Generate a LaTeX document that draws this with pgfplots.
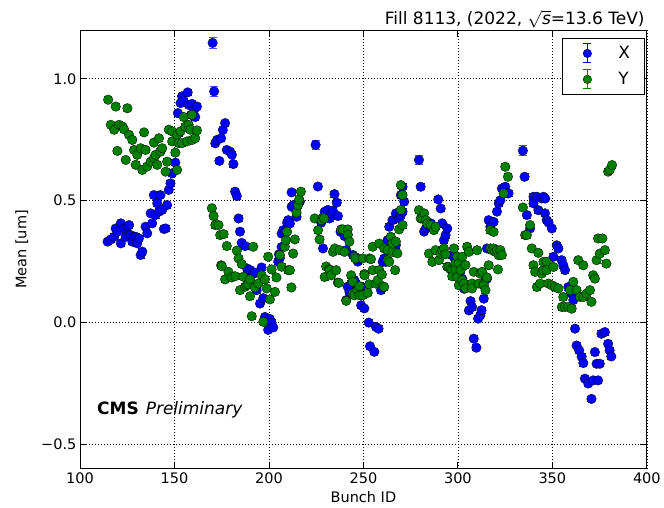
\documentclass[border=0pt]{standalone}
\usepackage{fontspec}
\setmainfont{DejaVu Sans}
\usepackage{pgfplots}
\pgfplotsset{compat=1.18}
\usepackage{pgfplotstable}
\usetikzlibrary{calc}

% mean X per bunch
\pgfplotstableread{
x y
114.6 0.332
116.3 0.341
118.1 0.352
118.9 0.386
119.8 0.373
121.6 0.407
121.6 0.325
123.3 0.386
124.2 0.352
125.1 0.393
126.0 0.400
126.8 0.359
127.7 0.332
128.6 0.352
129.5 0.352
130.3 0.325
131.2 0.345
132.1 0.277
133.0 0.291
134.7 0.393
135.6 0.366
137.4 0.448
138.2 0.407
139.1 0.523
140.0 0.441
140.9 0.489
141.8 0.455
142.6 0.523
143.5 0.462
144.4 0.384
145.3 0.386
146.1 0.482
147.0 0.544
147.9 0.571
148.8 0.612
150.5 0.656
151.8 0.859
152.3 0.777
153.2 0.900
154.0 0.928
154.9 0.907
157.0 0.944
157.5 0.893
158.8 0.852
159.3 0.897
160.4 0.872
161.0 0.843
161.9 0.886
171.6 0.735
172.5 0.749
173.8 0.663
174.7 0.756
175.6 0.790
176.8 0.818
177.7 0.708
179.5 0.701
180.4 0.688
181.2 0.650
182.1 0.537
183.0 0.519
183.9 0.427
184.7 0.373
185.6 0.327
187.4 0.314
188.4 0.222
189.1 0.200
190.2 0.215
191.7 0.200
192.6 0.205
193.5 0.133
195.3 0.078
196.1 0.226
197.0 0.100
197.9 0.023
198.8 0.010
199.6 -0.030
200.5 0.015
201.4 0.000
202.3 -0.020
204.9 0.250
205.3 0.280
205.8 0.265
206.7 0.310
206.7 0.365
207.6 0.379
208.4 0.370
209.6 0.410
210.2 0.420
211.1 0.406
212.0 0.475
212.0 0.534
212.9 0.482
214.6 0.434
215.5 0.489
216.4 0.496
225.9 0.558
227.7 0.410
228.6 0.304
229.5 0.455
231.2 0.462
232.1 0.427
233.0 0.448
233.8 0.459
234.7 0.527
235.9 0.492
236.5 0.437
237.9 0.372
239.2 0.373
240.0 0.355
240.9 0.297
240.9 0.092
241.7 0.147
242.6 0.126
243.5 0.160
244.4 0.277
245.2 0.174
246.1 0.160
247.0 0.250
247.0 0.133
248.0 0.260
248.8 0.147
248.8 0.071
250.5 0.058
252.8 0.000
253.5 -0.097
255.8 -0.120
256.6 -0.018
258.0 -0.025
259.3 0.133
260.2 0.249
261.0 0.263
261.9 0.249
262.8 0.338
263.7 0.393
264.5 0.311
265.4 0.420
267.2 0.318
267.2 0.448
268.9 0.427
269.8 0.441
269.8 0.523
270.7 0.455
270.7 0.557
271.6 0.496
280.3 0.557
282.1 0.373
283.0 0.386
284.7 0.400
285.6 0.407
287.4 0.386
288.2 0.393
289.6 0.505
290.9 0.468
291.7 0.407
292.6 0.338
293.5 0.359
294.4 0.386
297.0 0.276
297.9 0.270
298.7 0.256
299.6 0.187
299.7 0.242
301.4 0.215
302.3 0.180
303.2 0.139
304.9 0.146
305.8 0.050
306.7 0.088
307.5 0.064
308.4 -0.066
309.8 -0.103
310.7 0.016
311.9 0.030
312.5 0.051
313.7 0.098
314.6 0.187
315.4 0.180
315.4 0.304
316.3 0.420
317.2 0.393
318.9 0.413
320.7 0.455
321.6 0.489
322.5 0.502
323.3 0.550
325.1 0.557
326.0 0.530
326.8 0.530
335.3 0.598
336.5 0.441
338.2 0.386
340.0 0.516
340.0 0.489
341.8 0.516
342.6 0.461
344.4 0.509
345.3 0.516
346.1 0.448
346.2 0.509
347.0 0.420
348.0 0.410
349.7 0.386
350.6 0.270
352.3 0.317
353.2 0.304
354.9 0.256
355.8 0.235
356.7 0.215
358.5 0.146
360.2 0.119
361.1 0.092
362.0 -0.025
362.8 -0.094
364.2 -0.114
365.5 -0.140
366.4 -0.166
367.2 -0.230
369.0 -0.250
370.7 -0.313
371.6 -0.237
372.5 -0.121
373.4 -0.169
374.2 -0.237
375.1 -0.169
376.0 -0.046
377.8 -0.039
379.5 -0.087
380.3 -0.114
381.2 -0.139
}\dataX

% bunches with larger uncertainty
\pgfplotstableread{
x y e
170.2 1.147 0.022
171.0 0.948 0.022
224.7 0.729 0.018
279.4 0.667 0.020
334.4 0.705 0.020
}\dataXout

% mean Y per bunch
\pgfplotstableread{
x y
114.9 0.914
116.3 0.811
118.1 0.791
118.9 0.886
119.8 0.704
120.7 0.811
122.5 0.804
123.3 0.793
124.2 0.667
125.1 0.879
126.0 0.770
127.7 0.749
128.6 0.708
129.5 0.647
130.3 0.688
132.1 0.715
133.0 0.626
133.9 0.780
134.7 0.708
135.6 0.640
137.4 0.660
139.1 0.674
139.1 0.738
140.0 0.688
140.9 0.647
141.8 0.756
142.6 0.701
143.5 0.715
145.3 0.619
146.1 0.660
147.0 0.791
148.8 0.784
148.8 0.743
150.5 0.697
151.4 0.626
151.4 0.770
152.3 0.736
153.2 0.784
154.0 0.736
154.9 0.843
155.8 0.804
156.7 0.743
157.5 0.811
158.4 0.791
159.3 0.852
159.3 0.749
161.0 0.756
161.9 0.788
169.8 0.469
170.7 0.437
171.6 0.400
173.3 0.400
174.2 0.359
174.7 0.235
175.1 0.231
176.0 0.363
176.8 0.177
177.7 0.314
178.6 0.208
180.3 0.185
182.1 0.190
183.0 0.295
183.9 0.263
184.7 0.133
185.6 0.240
186.5 0.188
187.4 0.147
188.2 0.153
189.1 0.157
190.0 0.177
190.0 0.108
190.9 0.026
191.7 0.311
192.6 0.144
194.4 0.160
196.1 0.194
197.0 0.003
197.9 0.177
198.8 0.140
199.6 0.270
200.5 0.095
201.4 0.218
203.2 0.126
204.0 0.185
205.8 0.277
206.7 0.229
208.4 0.311
209.0 0.338
209.6 0.373
210.2 0.215
211.1 0.215
211.9 0.144
212.8 0.283
213.7 0.341
214.6 0.451
215.4 0.482
216.0 0.505
216.9 0.537
224.2 0.427
226.0 0.379
226.8 0.341
227.8 0.420
228.6 0.431
229.2 0.427
229.5 0.187
230.3 0.230
231.9 0.218
232.1 0.215
233.0 0.194
233.9 0.290
234.8 0.304
235.6 0.215
236.5 0.164
237.0 0.163
237.4 0.297
238.2 0.382
239.2 0.382
240.0 0.290
240.9 0.089
241.7 0.382
241.8 0.360
242.6 0.332
243.5 0.194
244.4 0.119
244.4 0.167
245.2 0.112
245.3 0.270
245.8 0.263
247.0 0.133
247.9 0.149
247.9 0.112
249.6 0.112
249.7 0.263
250.5 0.199
250.6 0.194
252.3 0.122
253.1 0.157
253.2 0.263
254.0 0.260
254.9 0.215
254.9 0.311
256.6 0.160
257.5 0.174
258.4 0.215
258.4 0.324
259.8 0.197
260.2 0.149
261.0 0.146
261.0 0.304
262.8 0.297
262.8 0.256
263.7 0.249
264.5 0.352
265.4 0.290
265.4 0.324
266.8 0.215
267.2 0.332
268.0 0.284
268.9 0.382
269.8 0.462
269.8 0.564
270.7 0.523
270.7 0.400
279.4 0.461
280.3 0.427
281.2 0.427
282.1 0.448
283.0 0.420
283.8 0.406
284.7 0.283
285.6 0.400
286.5 0.249
287.3 0.379
288.2 0.393
288.2 0.297
290.0 0.256
290.9 0.283
291.7 0.297
292.6 0.304
293.5 0.280
294.4 0.229
295.2 0.228
296.1 0.218
297.0 0.215
297.0 0.190
297.9 0.304
298.7 0.242
298.8 0.215
299.6 0.187
299.7 0.270
300.5 0.242
300.5 0.153
301.4 0.215
302.3 0.270
302.3 0.174
303.2 0.160
304.0 0.236
304.0 0.140
304.9 0.311
305.8 0.290
307.5 0.160
307.5 0.140
308.4 0.208
310.2 0.297
311.0 0.160
311.9 0.201
312.8 0.208
313.7 0.160
313.7 0.153
314.6 0.133
315.4 0.185
316.3 0.235
317.2 0.304
317.2 0.379
318.1 0.297
318.9 0.304
318.9 0.372
319.8 0.290
320.7 0.297
321.2 0.218
321.6 0.276
322.5 0.297
323.3 0.277
324.2 0.530
325.1 0.639
326.5 0.598
334.4 0.472
335.6 0.359
336.5 0.359
338.2 0.400
339.1 0.304
340.0 0.235
340.9 0.208
341.8 0.146
342.6 0.286
343.5 0.160
344.4 0.201
345.3 0.215
345.3 0.249
347.0 0.249
347.0 0.215
347.9 0.160
349.7 0.153
350.6 0.228
351.4 0.146
353.2 0.140
355.0 0.064
355.8 0.105
356.7 0.064
358.5 0.064
359.3 0.133
360.2 0.057
361.1 0.167
362.8 0.133
363.7 0.256
364.6 0.105
366.4 0.105
366.4 0.235
368.1 0.119
369.9 0.133
370.7 0.085
371.6 0.194
372.5 0.180
373.4 0.256
374.2 0.345
375.1 0.283
376.5 0.345
377.8 0.297
378.6 0.242
379.5 0.619
380.4 0.626
381.6 0.646
}\dataY

\definecolor{cX}{rgb}{0,0,1}
\definecolor{cY}{rgb}{0,0.5,0}

\begin{document}
\begin{tikzpicture}
\begin{axis}[
  scale only axis, width=567pt, height=439pt,
  xmin=100, xmax=400, ymin=-0.6, ymax=1.2,
  xtick={100,150,200,250,300,350,400},
  xticklabels={100,150,200,250,300,350,400},
  ytick={-0.5,0,0.5,1},
  yticklabels={−0.5,0.0,0.5,1.0},
  tick label style={font=\fontsize{14.5}{16}\selectfont},
  label style={font=\fontsize{14.5}{16}\selectfont},
  xlabel={Bunch ID}, ylabel={Mean [um]},
  xlabel style={yshift=-1pt}, ylabel style={yshift=6pt},
  grid=major, grid style={black, line width=0.6pt, dash pattern=on 1pt off 2pt},
  axis line style={line width=0.9pt},
  tick align=inside, major tick length=7pt,
  tick style={black, line width=0.8pt},
  legend cell align=left,
  legend style={at={(rel axis cs:1,1)}, anchor=north east, xshift=-2pt, yshift=-8pt,
    draw=black, line width=0.9pt, inner xsep=4pt, inner ysep=3pt, row sep=2pt,
    font=\fontsize{17}{19}\selectfont},
]
\addlegendimage{legend image code/.code={
  \path[draw=none, fill=none] (0pt,-12pt) rectangle (50pt,12pt);
  \draw[cX, line width=0.9pt] (21pt,-9.5pt) -- (21pt,9.5pt) (17pt,-9.5pt) -- (25pt,-9.5pt) (17pt,9.5pt) -- (25pt,9.5pt);
  \filldraw[fill=cX, draw=black, line width=0.3pt] (21pt,0pt) circle (4.3pt);
}}
\addlegendentry{\makebox[20pt][l]{X}}
\addlegendimage{legend image code/.code={
  \path[draw=none, fill=none] (0pt,-12pt) rectangle (50pt,12pt);
  \draw[cY, line width=0.9pt] (21pt,-9.5pt) -- (21pt,9.5pt) (17pt,-9.5pt) -- (25pt,-9.5pt) (17pt,9.5pt) -- (25pt,9.5pt);
  \filldraw[fill=cY, draw=black, line width=0.3pt] (21pt,0pt) circle (4.3pt);
}}
\addlegendentry{\makebox[20pt][l]{Y}}

\addplot[only marks, mark=*, mark size=4.8pt, mark options={fill=cX, draw=black, line width=0.3pt},
  error bars/.cd, y dir=both, y fixed=0.012,
  error bar style={cX, line width=0.8pt},
  error mark options={rotate=90, cX, mark size=4pt, line width=0.8pt}]
  table[x=x, y=y] {\dataX};
\addplot[only marks, mark=*, mark size=4.8pt, mark options={fill=cX, draw=black, line width=0.3pt},
  error bars/.cd, y dir=both, y explicit,
  error bar style={cX!70!white, line width=0.8pt},
  error mark options={rotate=90, cX!70!white, mark size=4pt, line width=0.8pt}]
  table[x=x, y=y, y error=e] {\dataXout};
\addplot[only marks, mark=*, mark size=4.8pt, mark options={fill=cY, draw=black, line width=0.3pt},
  error bars/.cd, y dir=both, y fixed=0.012,
  error bar style={cY, line width=0.8pt},
  error mark options={rotate=90, cY, mark size=4pt, line width=0.8pt}]
  table[x=x, y=y] {\dataY};

\node[anchor=base west, inner sep=0pt, font=\fontsize{17}{19}\selectfont]
  at (rel axis cs:0.030,0.1246) {\bfseries CMS\hspace{7pt}\mdseries\itshape Preliminary};
\end{axis}
\node[anchor=base east, inner sep=0pt, font=\fontsize{17}{19}\selectfont]
  at ($(current axis.north east)+(-2pt,5pt)$) {Fill 8113, (2022, $\sqrt{\mathit{s}}$=13.6 TeV)};
\path ($(current axis.south west)+(-80pt,-39pt)$) rectangle ($(current axis.north east)+(17pt,30pt)$);
\end{tikzpicture}
\end{document}
